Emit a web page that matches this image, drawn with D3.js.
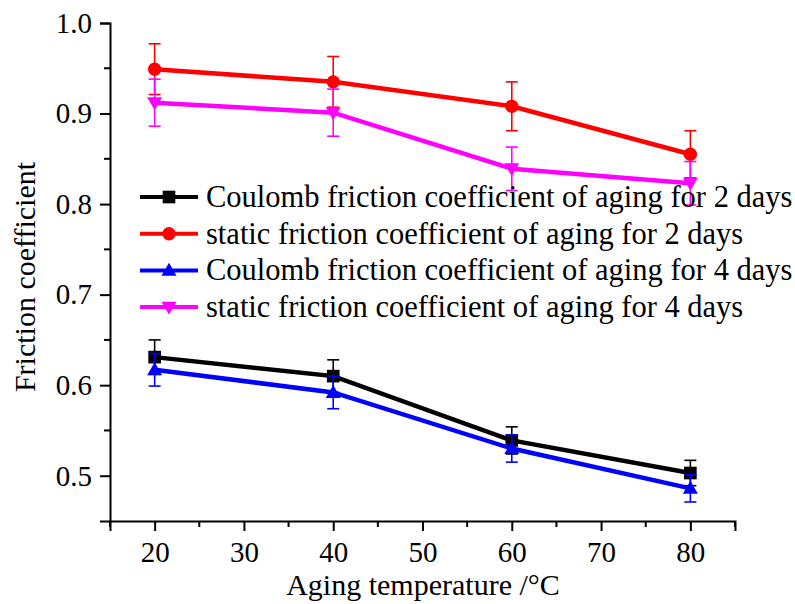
<!DOCTYPE html>
<html><head><meta charset="utf-8">
<script src="https://cdn.jsdelivr.net/npm/d3@7"></script>
<style>body{margin:0;background:#fff}svg{display:block}</style>
</head><body>
<svg id="c" width="795" height="604"></svg>
<script>
const temps = [20, 40, 60, 80];
const coulomb2 = [0.631, 0.610, 0.539, 0.503];
const coulomb2Err = [0.019, 0.018, 0.015, 0.014];
const static2 = [0.949, 0.935, 0.908, 0.855];
const static2Err = [0.028, 0.028, 0.027, 0.026];
const coulomb4 = [0.617, 0.592, 0.530, 0.486];
const coulomb4Err = [0.018, 0.018, 0.015, 0.015];
const static4 = [0.912, 0.901, 0.839, 0.823];
const static4Err = [0.026, 0.026, 0.024, 0.024];
const seriesNames = [
  "Coulomb friction coefficient of aging for 2 days",
  "static friction coefficient of aging for 2 days",
  "Coulomb friction coefficient of aging for 4 days",
  "static friction coefficient of aging for 4 days"
];
const xTicks = [20, 30, 40, 50, 60, 70, 80];
const yTicks = [0.5, 0.6, 0.7, 0.8, 0.9, 1.0];
const xLabel = "Aging temperature /\u00B0C";
const yLabel = "Friction coefficient";

const series = [
  {name: seriesNames[0], vals: coulomb2, err: coulomb2Err, color: "#000000", sym: d3.symbolSquare},
  {name: seriesNames[1], vals: static2, err: static2Err, color: "#ff0000", sym: d3.symbolCircle},
  {name: seriesNames[2], vals: coulomb4, err: coulomb4Err, color: "#0000ff", sym: "up"},
  {name: seriesNames[3], vals: static4, err: static4Err, color: "#ff00ff", sym: "down"}
];

const svg = d3.select("#c");
const FONT = '"Liberation Serif"';
const x = d3.scaleLinear().domain([15, 85]).range([110, 735]);
const y = d3.scaleLinear().domain([0.45, 1.0]).range([521, 23]);

const xAxis = d3.axisBottom(x).tickValues(xTicks).tickSize(10).tickPadding(6).tickFormat(d3.format("d"));
const gx = svg.append("g").attr("transform", `translate(0,${y(0.45)})`).call(xAxis);
const yAxis = d3.axisLeft(y).tickValues(yTicks).tickSize(10).tickPadding(6).tickFormat(d3.format(".1f"));
const gy = svg.append("g").attr("transform", `translate(${x(15)},0)`).call(yAxis);
const xMinor = d3.range(15, 86, 10);
gx.selectAll(".minor").data(xMinor).enter().append("line")
  .attr("x1", d => x(d)).attr("x2", d => x(d)).attr("y1", 0).attr("y2", 6)
  .attr("stroke", "#000").attr("stroke-width", 2);
const yMinor = [0.55, 0.65, 0.75, 0.85, 0.95];
gy.selectAll(".minor").data(yMinor).enter().append("line")
  .attr("y1", d => y(d)).attr("y2", d => y(d)).attr("x1", 0).attr("x2", -6)
  .attr("stroke", "#000").attr("stroke-width", 2);
[gx, gy].forEach(g => {
  g.style("font-family", FONT);
  g.select(".domain").attr("stroke", "#000").attr("stroke-width", 2);
  g.selectAll(".tick line").attr("stroke", "#000").attr("stroke-width", 2);
  g.selectAll(".tick text").style("font-family", FONT).style("font-size", "29px").attr("fill", "#000");
});
gx.selectAll(".tick text").attr("dy", "0.85em");
gy.selectAll(".tick text").attr("dx", "-2");

svg.append("text").attr("x", 423).attr("y", 595).attr("text-anchor", "middle")
  .style("font-family", FONT).style("font-size", "30px").text(xLabel);
svg.append("text").attr("transform", "translate(35,277) rotate(-90)").attr("text-anchor", "middle")
  .style("font-family", FONT).style("font-size", "30px").text(yLabel);

function drawMarker(g, s, cx, cy) {
  if (s.sym === "up" || s.sym === "down") {
    const w = 7.5, h = 13;
    const pts = s.sym === "up"
      ? [[cx - w, cy + h * 0.42], [cx + w, cy + h * 0.42], [cx, cy - h * 0.58]]
      : [[cx - w, cy - h * 0.42], [cx + w, cy - h * 0.42], [cx, cy + h * 0.58]];
    g.append("polygon").attr("points", pts.map(p => p.join(",")).join(" ")).attr("fill", s.color);
  } else {
    const size = s.sym === d3.symbolSquare ? 160 : 140;
    g.append("path").attr("d", d3.symbol().type(s.sym).size(size)())
      .attr("transform", `translate(${cx},${cy})`).attr("fill", s.color);
  }
}

const line = d3.line().x(d => x(d[0])).y(d => y(d[1]));
series.forEach(s => {
  const g = svg.append("g");
  const pts = temps.map((t, i) => [t, s.vals[i], s.err[i]]);
  pts.forEach(p => {
    const cx = x(p[0]), y1 = y(p[1] + p[2]), y2 = y(p[1] - p[2]);
    g.append("line").attr("x1", cx).attr("x2", cx).attr("y1", y1).attr("y2", y2).attr("stroke", s.color).attr("stroke-width", 1.6);
    [y1, y2].forEach(yy => g.append("line").attr("x1", cx - 6).attr("x2", cx + 6).attr("y1", yy).attr("y2", yy).attr("stroke", s.color).attr("stroke-width", 1.6));
  });
  g.append("path").datum(pts).attr("d", line).attr("fill", "none").attr("stroke", s.color).attr("stroke-width", 4.5);
  pts.forEach(p => drawMarker(g, s, x(p[0]), y(p[1])));
});

const leg = svg.append("g");
series.forEach((s, i) => {
  const cy = 197 + i * 36.7;
  leg.append("line").attr("x1", 140).attr("x2", 198).attr("y1", cy).attr("y2", cy).attr("stroke", s.color).attr("stroke-width", 4);
  drawMarker(leg, s, 169, cy);
  leg.append("text").attr("x", 206).attr("y", cy + 10).style("font-family", FONT).style("font-size", "30.5px").text(s.name);
});
</script>
</body></html>
